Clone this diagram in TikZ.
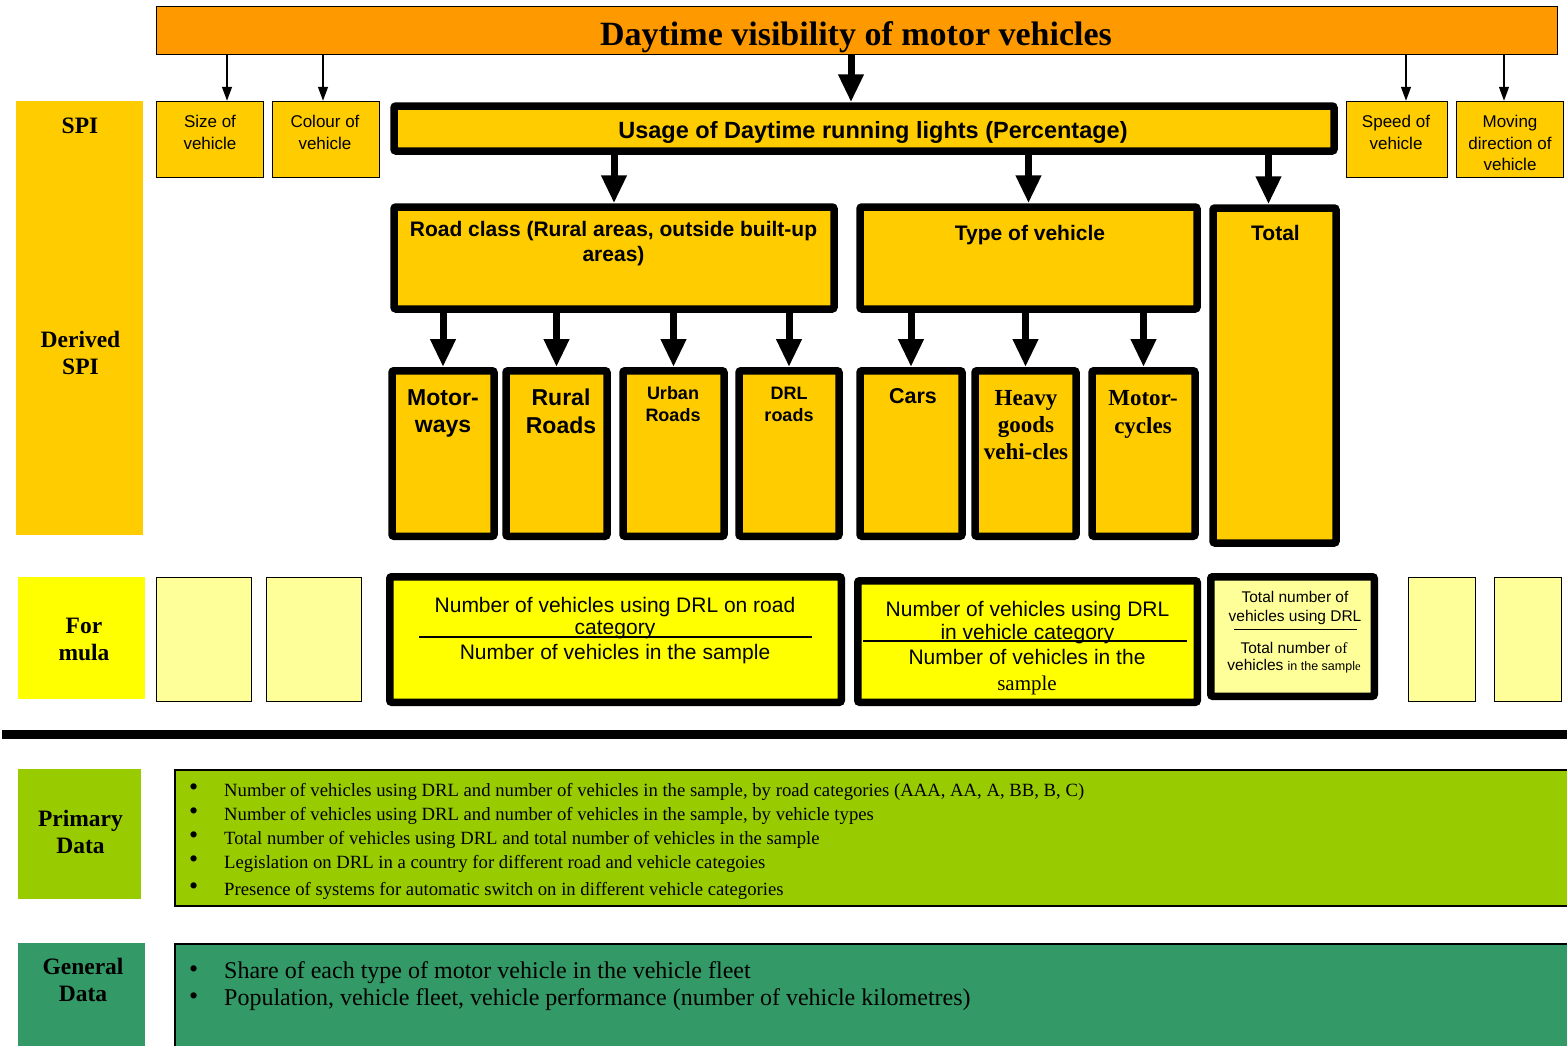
\documentclass[tikz,border=0pt]{standalone}
\usepackage{fontspec}
\setmainfont{Liberation Serif}
\setsansfont{Liberation Sans}
\usetikzlibrary{positioning,arrows.meta,calc}
\definecolor{drlOrange}{RGB}{255,153,0}
\definecolor{drlGold}{RGB}{255,204,0}
\definecolor{drlYellow}{RGB}{255,255,0}
\definecolor{drlPale}{RGB}{255,255,153}
\definecolor{drlLime}{RGB}{153,204,0}
\definecolor{drlSea}{RGB}{51,153,102}
\newcommand{\fs}[2]{\fontsize{#1}{#2}\selectfont}
\newcommand{\blt}{\makebox[35pt][l]{\raisebox{1pt}{\fs{26}{26}\textbullet}}}
\tikzset{
  rowlbl/.style={inner sep=0pt},
  rowtxt/.style={inner sep=0pt, align=center, font=\rmfamily\bfseries\fs{23.5}{26.5}},
  thinbox/.style={draw, line width=1.5pt, fill=drlGold, inner sep=0pt},
  fatbox/.style={draw, line width=7.5pt, fill=drlGold, rounded corners=2pt, inner sep=0pt},
  lbl/.style={inner sep=0pt, align=center},
  bul/.style={inner sep=0pt, anchor=base west, font=\rmfamily\fs{18.7}{24}},
  bulbig/.style={inner sep=0pt, anchor=base west, font=\rmfamily\fs{24}{28}},
  thinarr/.style={-{Triangle[length=14pt,width=10pt]}, line width=1.4pt},
  fatarr/.style={-{Triangle[length=28pt,width=24pt]}, line width=7pt},
  bar/.style={line width=1.5pt}
}
\begin{document}
\begin{tikzpicture}[x=1pt,y=-1pt]
  \useasboundingbox (0,0) rectangle (1567,1045);
  % row labels on the left
  \node[rowlbl, fill=drlGold, minimum width=127pt, minimum height=434pt] (spiCol) at (79.5,318) {};
  \node[rowtxt] (spiTxt) at (80,125.5) {SPI};
  \node[rowtxt] (dspiTxt) at (80.5,353) {Derived\\SPI};
  \node[rowlbl, fill=drlYellow, minimum width=127pt, minimum height=122pt] (fmCol) at (81.5,638) {};
  \node[rowtxt] (fmTxt) at (84,639.5) {For\\mula};
  \node[rowlbl, fill=drlLime, minimum width=123pt, minimum height=130pt] (pdCol) at (79.5,834) {};
  \node[rowtxt] (pdTxt) at (80.5,832) {Primary\\Data};
  \node[rowlbl, fill=drlSea, minimum width=127pt, minimum height=110pt] (gdCol) at (81.5,998) {};
  \node[rowtxt] (gdTxt) at (83,980) {General\\Data};
  % title
  \node[draw, line width=1.5pt, fill=drlOrange, inner sep=0pt, minimum width=1401pt, minimum height=48pt] (title) at (857,30.5) {};
  \node[lbl, anchor=base, font=\rmfamily\bfseries\fs{34}{40}] (titleTxt) at (856,45) {Daytime visibility of motor vehicles};
  % other indicators
  \node[thinbox, minimum width=107pt, minimum height=76pt] (size) at (210,139.5) {};
  \node[lbl, anchor=north, font=\sffamily\fs{17}{21.5}] (sizeTxt) at (210,115) {Size of\\vehicle};
  \node[thinbox, minimum width=107pt, minimum height=76pt] (colour) at (326,139.5) {};
  \node[lbl, anchor=north, font=\sffamily\fs{17}{21.5}] (colourTxt) at (325,115) {Colour of\\vehicle};
  \node[thinbox, minimum width=101pt, minimum height=76pt] (speed) at (1397,139.5) {};
  \node[lbl, anchor=north, font=\sffamily\fs{17}{21.5}] (speedTxt) at (1396,115) {Speed of\\vehicle};
  \node[thinbox, minimum width=107pt, minimum height=76pt] (moving) at (1510,139.5) {};
  \node[lbl, anchor=north, font=\sffamily\fs{17}{21.5}] (movingTxt) at (1510,115) {Moving\\direction of\\vehicle};
  \coordinate (sizeIn) at ($(size.north)+(17,0)$);
  \coordinate (colourIn) at ($(colour.north)+(-3,0)$);
  \coordinate (speedIn) at ($(speed.north)+(9,0)$);
  \coordinate (movingIn) at ($(moving.north)+(-6,0)$);
  \draw[thinarr] (title.south -| sizeIn) -- (sizeIn);
  \draw[thinarr] (title.south -| colourIn) -- (colourIn);
  \draw[thinarr] (title.south -| speedIn) -- (speedIn);
  \draw[thinarr] (title.south -| movingIn) -- (movingIn);
  % SPI
  \node[fatbox, minimum width=940pt, minimum height=45pt] (usage) at (864,128.5) {};
  \node[lbl, anchor=base, font=\sffamily\bfseries\fs{23.5}{28}] (usageTxt) at (873,138.3) {Usage of Daytime running lights (Percentage)};
  \coordinate (usageIn) at ($(usage.north)+(-13,0)$);
  \draw[fatarr] (title.south -| usageIn) -- (usageIn);
  % derived SPI
  \node[fatbox, minimum width=440pt, minimum height=102pt] (road) at (614,258) {};
  \node[lbl, anchor=north, font=\sffamily\bfseries\fs{21}{25.5}] (roadTxt) at (613.5,221) {Road class (Rural areas, outside built-up\\areas)};
  \node[fatbox, minimum width=337pt, minimum height=102pt] (type) at (1028.5,258) {};
  \node[lbl, anchor=base, font=\sffamily\bfseries\fs{21}{25}] (typeTxt) at (1030,240) {Type of vehicle};
  \node[fatbox, minimum width=123pt, minimum height=335pt] (total) at (1274.5,375.5) {};
  \node[lbl, anchor=base, font=\sffamily\bfseries\fs{21}{25}] (totalTxt) at (1275.5,240) {Total};
  \coordinate (totalIn) at ($(total.north)+(-6,0)$);
  \draw[fatarr] (usage.south -| road.north) -- (road.north);
  \draw[fatarr] (usage.south -| type.north) -- (type.north);
  \draw[fatarr] (usage.south -| totalIn) -- (totalIn);
  % road classes
  \node[fatbox, minimum width=102pt, minimum height=165.5pt] (mway) at (443,453.5) {};
  \node[lbl, anchor=north, font=\sffamily\bfseries\fs{23}{27.5}] (mwayTxt) at (443,389) {Motor-\\ways};
  \node[fatbox, minimum width=101pt, minimum height=165.5pt] (rural) at (556.5,453.5) {};
  \node[lbl, anchor=north, font=\sffamily\bfseries\fs{23}{28}] (ruralTxt) at (561,389) {Rural\\Roads};
  \node[fatbox, minimum width=101pt, minimum height=165.5pt] (urban) at (673.5,453.5) {};
  \node[lbl, anchor=north, font=\sffamily\bfseries\fs{18}{22}] (urbanTxt) at (673,386.5) {Urban\\Roads};
  \node[fatbox, minimum width=100pt, minimum height=165.5pt] (drl) at (789,453.5) {};
  \node[lbl, anchor=north, font=\sffamily\bfseries\fs{18}{22}] (drlTxt) at (789,386.5) {DRL\\roads};
  \draw[fatarr] (road.south -| mway.north) -- (mway.north);
  \draw[fatarr] (road.south -| rural.north) -- (rural.north);
  \draw[fatarr] (road.south -| urban.north) -- (urban.north);
  \draw[fatarr] (road.south -| drl.north) -- (drl.north);
  % vehicle types
  \node[fatbox, minimum width=102pt, minimum height=165.5pt] (cars) at (911,453.5) {};
  \node[lbl, anchor=north, font=\sffamily\bfseries\fs{21.5}{26}] (carsTxt) at (913,388) {Cars};
  \node[fatbox, minimum width=101pt, minimum height=165.5pt] (heavy) at (1025.5,453.5) {};
  \node[lbl, anchor=north, font=\rmfamily\bfseries\fs{23}{27}] (heavyTxt) at (1026,390) {Heavy\\goods\\vehi-cles};
  \node[fatbox, minimum width=103pt, minimum height=165.5pt] (mcyc) at (1143.5,453.5) {};
  \node[lbl, anchor=north, font=\rmfamily\bfseries\fs{23}{28}] (mcycTxt) at (1143,390) {Motor-\\cycles};
  \draw[fatarr] (type.south -| cars.north) -- (cars.north);
  \draw[fatarr] (type.south -| heavy.north) -- (heavy.north);
  \draw[fatarr] (type.south -| mcyc.north) -- (mcyc.north);
  % formula row
  \node[thinbox, fill=drlPale, minimum width=95pt, minimum height=124pt] (fmSize) at (204,639.5) {};
  \node[thinbox, fill=drlPale, minimum width=95pt, minimum height=124pt] (fmColour) at (314,639.5) {};
  \node[thinbox, fill=drlPale, minimum width=67pt, minimum height=124pt] (fmSpeed) at (1442,639.5) {};
  \node[thinbox, fill=drlPale, minimum width=67pt, minimum height=124pt] (fmMoving) at (1528,639.5) {};
  \node[fatbox, fill=drlYellow, minimum width=451.5pt, minimum height=125.5pt] (fmRoad) at (615.5,639.5) {};
  \node[lbl, anchor=north, font=\sffamily\fs{21}{22}] (fmRoadNum) at (615,597.5) {Number of vehicles using DRL on road\\category};
  \coordinate (fmRoadBarL) at (419,637);
  \coordinate (fmRoadBarR) at (812,637);
  \draw[bar] (fmRoadBarL) -- (fmRoadBarR);
  \node[lbl, anchor=base, font=\sffamily\fs{21}{24}] (fmRoadDen) at (615,659) {Number of vehicles in the sample};
  \node[fatbox, fill=drlYellow, minimum width=339.5pt, minimum height=121.5pt] (fmType) at (1027.5,641.5) {};
  \node[lbl, anchor=north, font=\sffamily\fs{21}{23}] (fmTypeNum) at (1027.5,601) {Number of vehicles using DRL\\in vehicle category};
  \coordinate (fmTypeBarL) at (863,641);
  \coordinate (fmTypeBarR) at (1187,641);
  \draw[bar] (fmTypeBarL) -- (fmTypeBarR);
  \node[lbl, anchor=north, font=\sffamily\fs{21}{26}] (fmTypeDen) at (1027,649.5) {Number of vehicles in the\\{\rmfamily sample}};
  \node[fatbox, fill=drlPale, minimum width=163.5pt, minimum height=119.5pt] (fmTotal) at (1292.5,636.5) {};
  \node[lbl, anchor=north, font=\sffamily\fs{15.5}{18.5}] (fmTotalNum) at (1295,591.5) {Total number of\\vehicles using DRL};
  \coordinate (fmTotalBarL) at (1234,629.5);
  \coordinate (fmTotalBarR) at (1357,629.5);
  \draw[bar] (fmTotalBarL) -- (fmTotalBarR);
  \node[lbl, anchor=north, font=\sffamily\fs{15.5}{17}] (fmTotalDen) at (1294,642.5) {Total number {\rmfamily of}\\vehicles {\fs{12.5}{14}in the sampl{\rmfamily e}}};
  % separator
  \coordinate (sepL) at (2,734.5);
  \coordinate (sepR) at (1567,734.5);
  \draw[line width=9pt] (sepL) -- (sepR);
  % primary data
  \node[draw, line width=2pt, fill=drlLime, inner sep=0pt, minimum width=1401pt, minimum height=136pt] (pdBox) at (875.5,837.5) {};
  \node[bul] (pd1) at (189,796.7) {\blt Number of vehicles using DRL and number of vehicles in the sample, by road categories (AAA, AA, A, BB, B, C)};
  \node[bul] (pd2) at (189,820.7) {\blt Number of vehicles using DRL and number of vehicles in the sample, by vehicle types};
  \node[bul] (pd3) at (189,844.5) {\blt Total number of vehicles using DRL and total number of vehicles in the sample};
  \node[bul] (pd4) at (189,868.5) {\blt Legislation on DRL in a country for different road and vehicle categoies};
  \node[bul] (pd5) at (189,895) {\blt Presence of systems for automatic switch on in different vehicle categories};
  % general data
  \node[draw, line width=2pt, fill=drlSea, inner sep=0pt, minimum width=1401pt, minimum height=110pt] (gdBox) at (875.5,999) {};
  \node[bulbig] (gd1) at (189,978) {\blt Share of each type of motor vehicle in the vehicle fleet};
  \node[bulbig] (gd2) at (189,1005.5) {\blt Population, vehicle fleet, vehicle performance (number of vehicle kilometres)};
\end{tikzpicture}
\end{document}
